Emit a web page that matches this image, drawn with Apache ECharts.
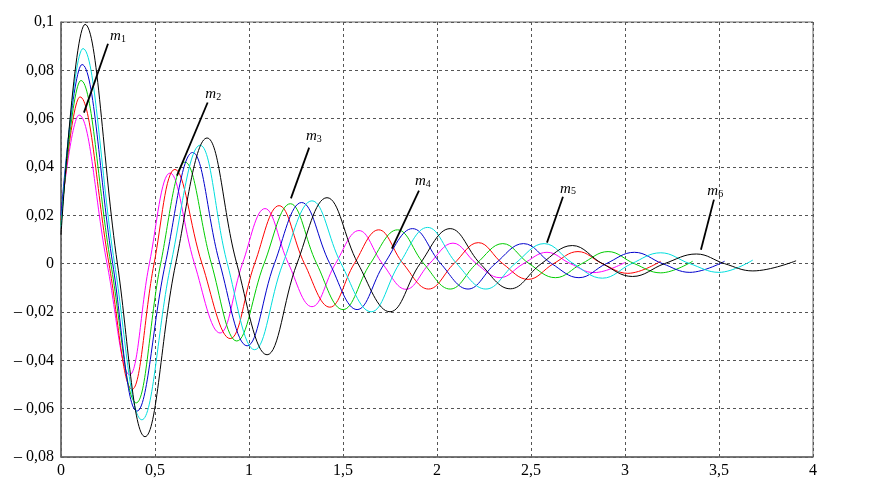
<!DOCTYPE html>
<html>
<head>
<meta charset="utf-8">
<script src="https://cdn.jsdelivr.net/npm/echarts@6/dist/echarts.min.js"></script>
<style>
  html, body { margin: 0; padding: 0; background: #fff; }
  #main { width: 881px; height: 487px; }
</style>
</head>
<body>
<div id="main"></div>
<script>
// tick labels (decimal comma, as in the original)
const xTickLabels = ['0', '0,5', '1', '1,5', '2', '2,5', '3', '3,5', '4'];
const yTickLabels = ['– 0,08', '– 0,06', '– 0,04', '– 0,02', '0', '0,02', '0,04', '0,06', '0,08', '0,1'];

const curveNames = ['m1', 'm2', 'm3', 'm4', 'm5', 'm6'];
const curveColors = ['#ff00ff', '#ff0000', '#00cc00', '#0000cc', '#00dddd', '#000000'];

// values: peaks, troughs and zero crossings
const curveMagenta = [
  [0, 0.02], [0.096, 0.0615], [0.245, 0], [0.365, -0.046], [0.47, 0], [0.58, 0.0375],
  [0.71, 0], [0.846, -0.0287], [0.965, 0], [1.085, 0.0228], [1.21, 0], [1.335, -0.0178],
  [1.46, 0], [1.585, 0.0137], [1.71, 0], [1.835, -0.0106], [1.96, 0], [2.085, 0.0085],
  [2.21, 0], [2.335, -0.0058], [2.46, 0], [2.585, 0.0047], [2.71, 0], [2.835, -0.0037],
  [3.0, 0.0005]
];
const curveRed = [
  [0, 0.018], [0.101, 0.069], [0.255, 0], [0.378, -0.052], [0.495, 0], [0.606, 0.039],
  [0.75, 0], [0.90, -0.031], [1.03, 0], [1.16, 0.024], [1.295, 0], [1.43, -0.018],
  [1.56, 0], [1.69, 0.014], [1.82, 0], [1.955, -0.0105], [2.09, 0], [2.22, 0.0087],
  [2.35, 0], [2.485, -0.0065], [2.62, 0], [2.75, 0.005], [2.88, 0], [3.015, -0.004],
  [3.19, 0.001]
];
const curveGreen = [
  [0, 0.016], [0.106, 0.0758], [0.265, 0], [0.40, -0.0576], [0.53, 0], [0.66, 0.042],
  [0.80, 0], [0.935, -0.032], [1.08, 0], [1.22, 0.0248], [1.36, 0], [1.50, -0.019],
  [1.645, 0], [1.79, 0.014], [1.93, 0], [2.07, -0.0105], [2.21, 0], [2.35, 0.0083],
  [2.49, 0], [2.63, -0.0058], [2.77, 0], [2.91, 0.005], [3.05, 0], [3.19, -0.0038],
  [3.36, 0.001]
];
const curveBlue = [
  [0, 0.02], [0.112, 0.0824], [0.275, 0], [0.404, -0.061], [0.555, 0], [0.70, 0.046],
  [0.845, 0], [0.99, -0.034], [1.135, 0], [1.28, 0.0253], [1.43, 0], [1.575, -0.019],
  [1.72, 0], [1.87, 0.0145], [2.02, 0], [2.165, -0.0105], [2.31, 0], [2.46, 0.0083],
  [2.61, 0], [2.755, -0.0058], [2.90, 0], [3.05, 0.0047], [3.20, 0], [3.345, -0.0036],
  [3.53, 0.001]
];
const curveCyan = [
  [0, 0.015], [0.117, 0.089], [0.285, 0], [0.43, -0.0646], [0.585, 0], [0.74, 0.049],
  [0.885, 0], [1.03, -0.0356], [1.18, 0], [1.335, 0.026], [1.49, 0], [1.65, -0.0199],
  [1.80, 0], [1.95, 0.015], [2.105, 0], [2.26, -0.0105], [2.415, 0], [2.57, 0.0083],
  [2.725, 0], [2.88, -0.006], [3.035, 0], [3.19, 0.0045], [3.345, 0], [3.50, -0.0036],
  [3.68, 0.0015]
];
const curveBlack = [
  [0, 0.012], [0.128, 0.099], [0.30, 0], [0.447, -0.0716], [0.61, 0], [0.777, 0.052],
  [0.935, 0], [1.096, -0.0377], [1.255, 0], [1.415, 0.0273], [1.58, 0], [1.75, -0.0199],
  [1.91, 0], [2.07, 0.0145], [2.23, 0], [2.39, -0.0104], [2.555, 0], [2.72, 0.0075],
  [2.88, 0], [3.04, -0.0053], [3.21, 0], [3.38, 0.004], [3.53, 0], [3.68, -0.003],
  [3.91, 0.0012]
];
const curves = [curveMagenta, curveRed, curveGreen, curveBlue, curveCyan, curveBlack];

// label anchors in data units: text position, leader line start and end
const labelText = [[0.303, 0.094], [0.81, 0.070], [1.345, 0.0526], [1.925, 0.034], [2.697, 0.031], [3.48, 0.030]];
const leaderFrom = [[0.25, 0.091], [0.78, 0.0667], [1.32, 0.048], [1.904, 0.0302], [2.67, 0.0277], [3.473, 0.0265]];
const leaderTo = [[0.122, 0.0625], [0.617, 0.0364], [1.223, 0.027], [1.76, 0.0062], [2.585, 0.0087], [3.404, 0.0058]];

const serif = "'Liberation Serif', 'Times New Roman', serif";
const chart = echarts.init(document.getElementById('main'));

const gridLine = { show: true, lineStyle: { color: '#555', width: 1, type: [3, 3] } };

const option = {
  animation: false,
  grid: { left: 61, right: 68, top: 22, bottom: 30, show: true, borderColor: '#666', borderWidth: 1 },
  xAxis: {
    type: 'value', min: 0, max: 4, interval: 0.5,
    axisLine: { onZero: false, lineStyle: { color: '#666', width: 1.5 } },
    axisTick: { show: false },
    splitLine: gridLine,
    axisLabel: {
      color: '#000', fontFamily: serif, fontSize: 16, margin: 6,
      formatter: (v, i) => xTickLabels[i]
    }
  },
  yAxis: {
    type: 'value', min: -0.08, max: 0.1, interval: 0.02,
    axisLine: { show: true, onZero: false, lineStyle: { color: '#666', width: 1.5 } },
    axisTick: { show: false },
    splitLine: gridLine,
    axisLabel: {
      color: '#000', fontFamily: serif, fontSize: 16, margin: 7,
      formatter: (v, i) => yTickLabels[i]
    }
  },
  series: curves.map((d, i) => ({
    name: curveNames[i],
    type: 'line',
    data: d,
    smooth: 0.4,
    showSymbol: false,
    lineStyle: { color: curveColors[i], width: 1 },
    z: 2 + i
  }))
};
chart.setOption(option);

// m1..m6 labels with leader lines
const graphics = [];
for (let i = 0; i < curveNames.length; i++) {
  const t = chart.convertToPixel({ gridIndex: 0 }, labelText[i]);
  const a = chart.convertToPixel({ gridIndex: 0 }, leaderFrom[i]);
  const b = chart.convertToPixel({ gridIndex: 0 }, leaderTo[i]);
  graphics.push({
    type: 'line', z: 20,
    shape: { x1: a[0], y1: a[1], x2: b[0], y2: b[1] },
    style: { stroke: '#000', lineWidth: 1.8 }
  });
  graphics.push({
    type: 'text', z: 20, x: t[0], y: t[1],
    style: {
      text: '{m|m}{s|' + curveNames[i].slice(1) + '}',
      align: 'center', verticalAlign: 'middle',
      rich: {
        m: { fontFamily: serif, fontStyle: 'italic', fontSize: 15, fill: '#000' },
        s: { fontFamily: serif, fontSize: 10, fill: '#000', padding: [6, 0, 0, 0] }
      }
    }
  });
}
chart.setOption({ graphic: graphics });
</script>
</body>
</html>
